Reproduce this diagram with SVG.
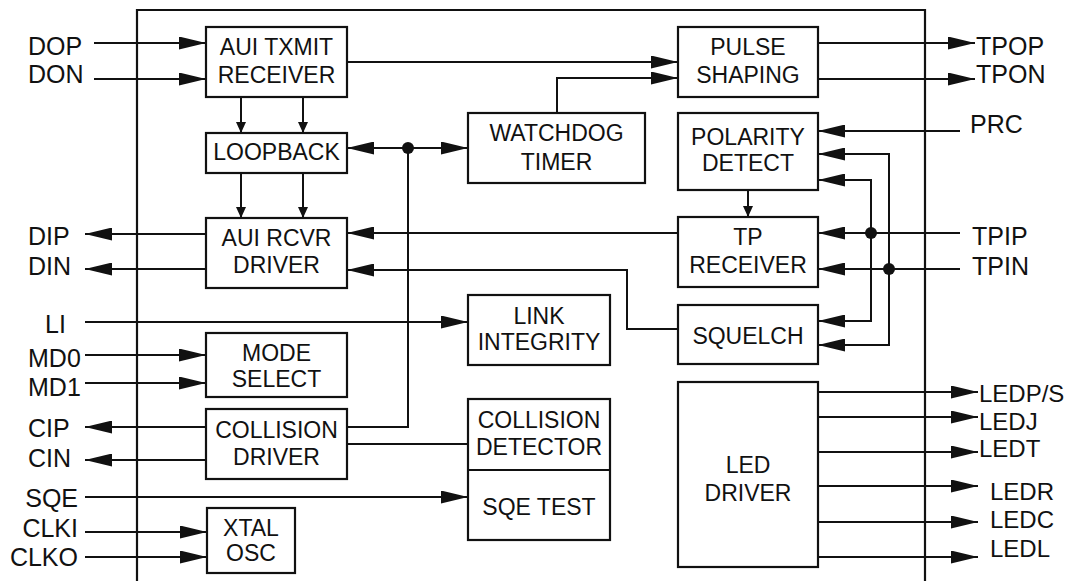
<svg xmlns="http://www.w3.org/2000/svg" width="1085" height="581" viewBox="0 0 1085 581">
<style>
.bx{fill:#fff;stroke:#111;stroke-width:2.2}
.t{font-family:"Liberation Sans",Arial,sans-serif;font-size:23px;fill:#111;text-anchor:middle}
.l{font-family:"Liberation Sans",Arial,sans-serif;font-size:25px;fill:#111}
.led{font-size:24px}
.c{fill:none;stroke:#111;stroke-width:2}
.a{marker-end:url(#ah)}
.s{marker-end:url(#as)}
.d{fill:#111}
</style>
<defs>
<marker id="ah" markerUnits="userSpaceOnUse" markerWidth="27" markerHeight="13" refX="27" refY="6.5" orient="auto-start-reverse"><path d="M0,0 L27,6.5 L0,13 z" fill="#111"/></marker>
<marker id="as" markerUnits="userSpaceOnUse" markerWidth="11" markerHeight="10" refX="11" refY="5" orient="auto"><path d="M0,0 L11,5 L0,10 z" fill="#111"/></marker>
</defs>
<rect width="1085" height="581" fill="#fff"/>
<path id="chip" d="M137,581 V10 H925 V581" fill="none" stroke="#111" stroke-width="2.2"/>

<g id="connectors">
<path class="c a" d="M94,43 H206"/>
<path class="c a" d="M94,79 H206"/>
<path class="c a" d="M347,62 H678"/>
<path class="c a" d="M557,113 V78 H678"/>
<path class="c s" d="M241,97 V133"/>
<path class="c s" d="M303,97 V133"/>
<path class="c a" d="M347,148 H468" marker-start="url(#ah)"/>
<path class="c" d="M408,148 V427 H347"/>
<circle class="d" cx="408" cy="148" r="6"/>
<path class="c" d="M347,444 H468"/>
<path class="c s" d="M241,173 V218"/>
<path class="c s" d="M303,173 V218"/>
<path class="c a" d="M678,233 H347"/>
<path class="c a" d="M206,234 H85"/>
<path class="c a" d="M206,269 H85"/>
<path class="c a" d="M678,329 H627 V270 H347"/>
<path class="c a" d="M85,322 H468"/>
<path class="c a" d="M85,355 H206"/>
<path class="c a" d="M85,383 H206"/>
<path class="c a" d="M206,427 H85"/>
<path class="c a" d="M206,460 H85"/>
<path class="c a" d="M85,497 H468"/>
<path class="c a" d="M85,532 H207"/>
<path class="c a" d="M85,557 H207"/>
<path class="c a" d="M818,43 H975"/>
<path class="c a" d="M818,79 H975"/>
<path class="c a" d="M960,131 H818"/>
<path class="c s" d="M748,190 V217"/>
<path class="c a" d="M871,321 V180 H818"/>
<path class="c a" d="M871,300 V321 H818"/>
<path class="c a" d="M889,345 V154 H818"/>
<path class="c a" d="M889,330 V345 H818"/>
<path class="c a" d="M960,233 H818"/>
<path class="c a" d="M960,269 H818"/>
<circle class="d" cx="871" cy="233" r="6"/>
<circle class="d" cx="889" cy="269" r="6"/>
<path class="c a" d="M818,392 H978"/>
<path class="c a" d="M818,417 H978"/>
<path class="c a" d="M818,452 H978"/>
<path class="c a" d="M818,486 H978"/>
<path class="c a" d="M818,522 H978"/>
<path class="c a" d="M818,557 H978"/>
</g>

<g id="aui-txmit"><rect class="bx" x="206" y="27" width="141" height="70"/><text class="t" x="276.5" y="55">AUI TXMIT</text><text class="t" x="276.5" y="83">RECEIVER</text></g>
<g id="loopback"><rect class="bx" x="206" y="133" width="141" height="40"/><text class="t" x="276.5" y="160">LOOPBACK</text></g>
<g id="aui-rcvr"><rect class="bx" x="206" y="218" width="141" height="70"/><text class="t" x="276.5" y="246">AUI RCVR</text><text class="t" x="276.5" y="273">DRIVER</text></g>
<g id="mode-select"><rect class="bx" x="206" y="333" width="141" height="64"/><text class="t" x="276.5" y="361">MODE</text><text class="t" x="276.5" y="387">SELECT</text></g>
<g id="collision-driver"><rect class="bx" x="206" y="409" width="141" height="70"/><text class="t" x="276.5" y="438">COLLISION</text><text class="t" x="276.5" y="465">DRIVER</text></g>
<g id="xtal-osc"><rect class="bx" x="207" y="508" width="88" height="65"/><text class="t" x="251" y="536">XTAL</text><text class="t" x="251" y="561">OSC</text></g>
<g id="watchdog"><rect class="bx" x="468" y="113" width="177" height="70"/><text class="t" x="556.5" y="141">WATCHDOG</text><text class="t" x="556.5" y="170">TIMER</text></g>
<g id="link-integrity"><rect class="bx" x="468" y="295" width="142" height="70"/><text class="t" x="539" y="324">LINK</text><text class="t" x="539" y="350">INTEGRITY</text></g>
<g id="collision-detector"><rect class="bx" x="468" y="399" width="142" height="141"/><line x1="468" y1="470" x2="610" y2="470" stroke="#111" stroke-width="2.2"/><text class="t" x="539" y="428">COLLISION</text><text class="t" x="539" y="455">DETECTOR</text><text class="t" x="539" y="515">SQE TEST</text></g>
<g id="pulse-shaping"><rect class="bx" x="678" y="27" width="140" height="70"/><text class="t" x="748" y="55">PULSE</text><text class="t" x="748" y="83">SHAPING</text></g>
<g id="polarity-detect"><rect class="bx" x="678" y="113" width="140" height="77"/><text class="t" x="748" y="145">POLARITY</text><text class="t" x="748" y="171">DETECT</text></g>
<g id="tp-receiver"><rect class="bx" x="678" y="217" width="140" height="70"/><text class="t" x="748" y="245">TP</text><text class="t" x="748" y="273">RECEIVER</text></g>
<g id="squelch"><rect class="bx" x="678" y="305" width="140" height="59"/><text class="t" x="748" y="344">SQUELCH</text></g>
<g id="led-driver"><rect class="bx" x="678" y="382" width="140" height="185"/><text class="t" x="748" y="473">LED</text><text class="t" x="748" y="501">DRIVER</text></g>

<g id="labels">
<text class="l" x="28" y="55">DOP</text>
<text class="l" x="28" y="83">DON</text>
<text class="l" x="28" y="245">DIP</text>
<text class="l" x="28" y="275">DIN</text>
<text class="l" x="45" y="333">LI</text>
<text class="l" x="28" y="367">MD0</text>
<text class="l" x="28" y="396">MD1</text>
<text class="l" x="28" y="437">CIP</text>
<text class="l" x="28" y="467">CIN</text>
<text class="l" x="78" y="507" text-anchor="end">SQE</text>
<text class="l" x="78" y="537" text-anchor="end">CLKI</text>
<text class="l" x="78" y="566" text-anchor="end">CLKO</text>
<text class="l" x="976" y="55">TPOP</text>
<text class="l" x="976" y="83">TPON</text>
<text class="l" x="970" y="133">PRC</text>
<text class="l" x="972" y="245">TPIP</text>
<text class="l" x="972" y="275">TPIN</text>
<text class="l led" x="979" y="402">LEDP/S</text>
<text class="l led" x="979" y="430">LEDJ</text>
<text class="l led" x="979" y="457">LEDT</text>
<text class="l led" x="990" y="500">LEDR</text>
<text class="l led" x="990" y="528">LEDC</text>
<text class="l led" x="990" y="557">LEDL</text>
</g>
</svg>
